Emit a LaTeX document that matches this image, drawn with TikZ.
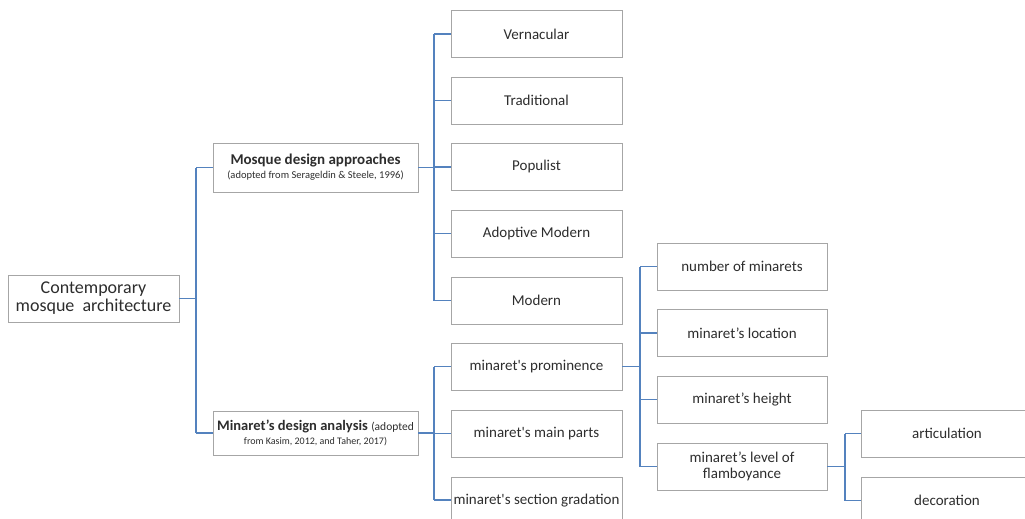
\documentclass[tikz,border=0pt]{standalone}
\usepackage{fontspec}
\setmainfont{Carlito}
\definecolor{boxgray}{RGB}{166,166,166}
\definecolor{textgray}{RGB}{45,45,45}
\definecolor{linkblue}{RGB}{84,130,190}
\begin{document}
\begin{tikzpicture}[x=1pt,y=-1pt,
  box/.style={draw=boxgray, line width=0.9pt, text=textgray, align=center, inner sep=0pt,
    minimum width=171pt, minimum height=47pt, font=\fontsize{15}{16}\selectfont},
  link/.style={draw=linkblue, line width=1.1pt}]
\useasboundingbox (0,0) rectangle (1025,519);
% root
\node[box, minimum width=171pt, minimum height=47pt, font=\fontsize{18}{18}\selectfont] (root) at (93.5,298.5) {Contemporary\\mosque\ \ architecture};
% level 1
\node[box, minimum width=205pt, minimum height=49pt] (mda) at (315.5,167.5)
  {{\bfseries Mosque design approaches}\\[-2pt]{\fontsize{10.5}{11}\selectfont (adopted from Serageldin \& Steele, 1996)}};
\node[box, minimum width=205pt, minimum height=44pt] (mina) at (315.5,433)
  {{\fontsize{14.5}{15}\selectfont\bfseries Minaret’s design analysis} {\fontsize{11.5}{11}\selectfont (adopted}\\[-2pt]{\fontsize{10}{11}\selectfont from Kasim, 2012, and Taher, 2017)}};
% level 2
\node[box] (v) at (536.5,34) {Vernacular};
\node[box] (t) at (536.5,100.5) {Traditional};
\node[box] (p) at (536.5,167) {Populist};
\node[box] (am) at (536.5,233.5) {Adoptive Modern};
\node[box] (m) at (536.5,300.5) {Modern};
\node[box] (mp) at (536.5,366.5) {minaret\textquotesingle s prominence};
\node[box] (mmp) at (536.5,433.5) {minaret\textquotesingle s main parts};
\node[box] (msg) at (536.5,500.5) {minaret\textquotesingle s section gradation};
\node[box, minimum height=1pt, draw=none] (msgt) at (536.5,500) {\phantom{x}};
% level 3
\node[box, minimum width=170pt] (nm) at (742,266.5) {number of minarets};
\node[box, minimum width=170pt] (ml) at (742,333) {minaret’s location};
\node[box, minimum width=170pt] (mh) at (742,399.5) {minaret’s height};
\node[box, minimum width=170pt] (mf) at (742,466.5) {minaret’s level of\\flamboyance};
% level 4
\node[box, minimum width=172pt] (ar) at (947,433.5) {articulation};
\node[box, minimum width=172pt] (de) at (947,500.5) {decoration};
% connectors
\coordinate (j0) at (196,0);
\draw[link] (root.east) -- (root.east -| j0);
\draw[link] (mda.west -| j0) |- (mda.west);
\draw[link] (mina.west -| j0) |- (mina.west);
\draw[link] (mda.west -| j0) -- (mina.west -| j0);
\coordinate (j1) at (434,0);
\draw[link] (mda.east) -- (mda.east -| j1);
\draw[link] (v.west -| j1) -- (m.west -| j1);
\foreach \n in {v,t,p,am,m} \draw[link] (\n.west -| j1) -- (\n.west);
\draw[link] (mina.east) -- (mina.east -| j1);
\draw[link] (mp.west -| j1) -- (msgt.west -| j1);
\foreach \n in {mp,mmp,msgt} \draw[link] (\n.west -| j1) -- (\n.west);
\coordinate (j2) at (640,0);
\draw[link] (mp.east) -- (mp.east -| j2);
\draw[link] (nm.west -| j2) -- (mf.west -| j2);
\foreach \n in {nm,ml,mh,mf} \draw[link] (\n.west -| j2) -- (\n.west);
\coordinate (j3) at (845,0);
\draw[link] (mf.east) -- (mf.east -| j3);
\draw[link] (ar.west -| j3) -- (ar.west);
\draw[link] (ar.west -| j3) |- (de.west);
\end{tikzpicture}
\end{document}
